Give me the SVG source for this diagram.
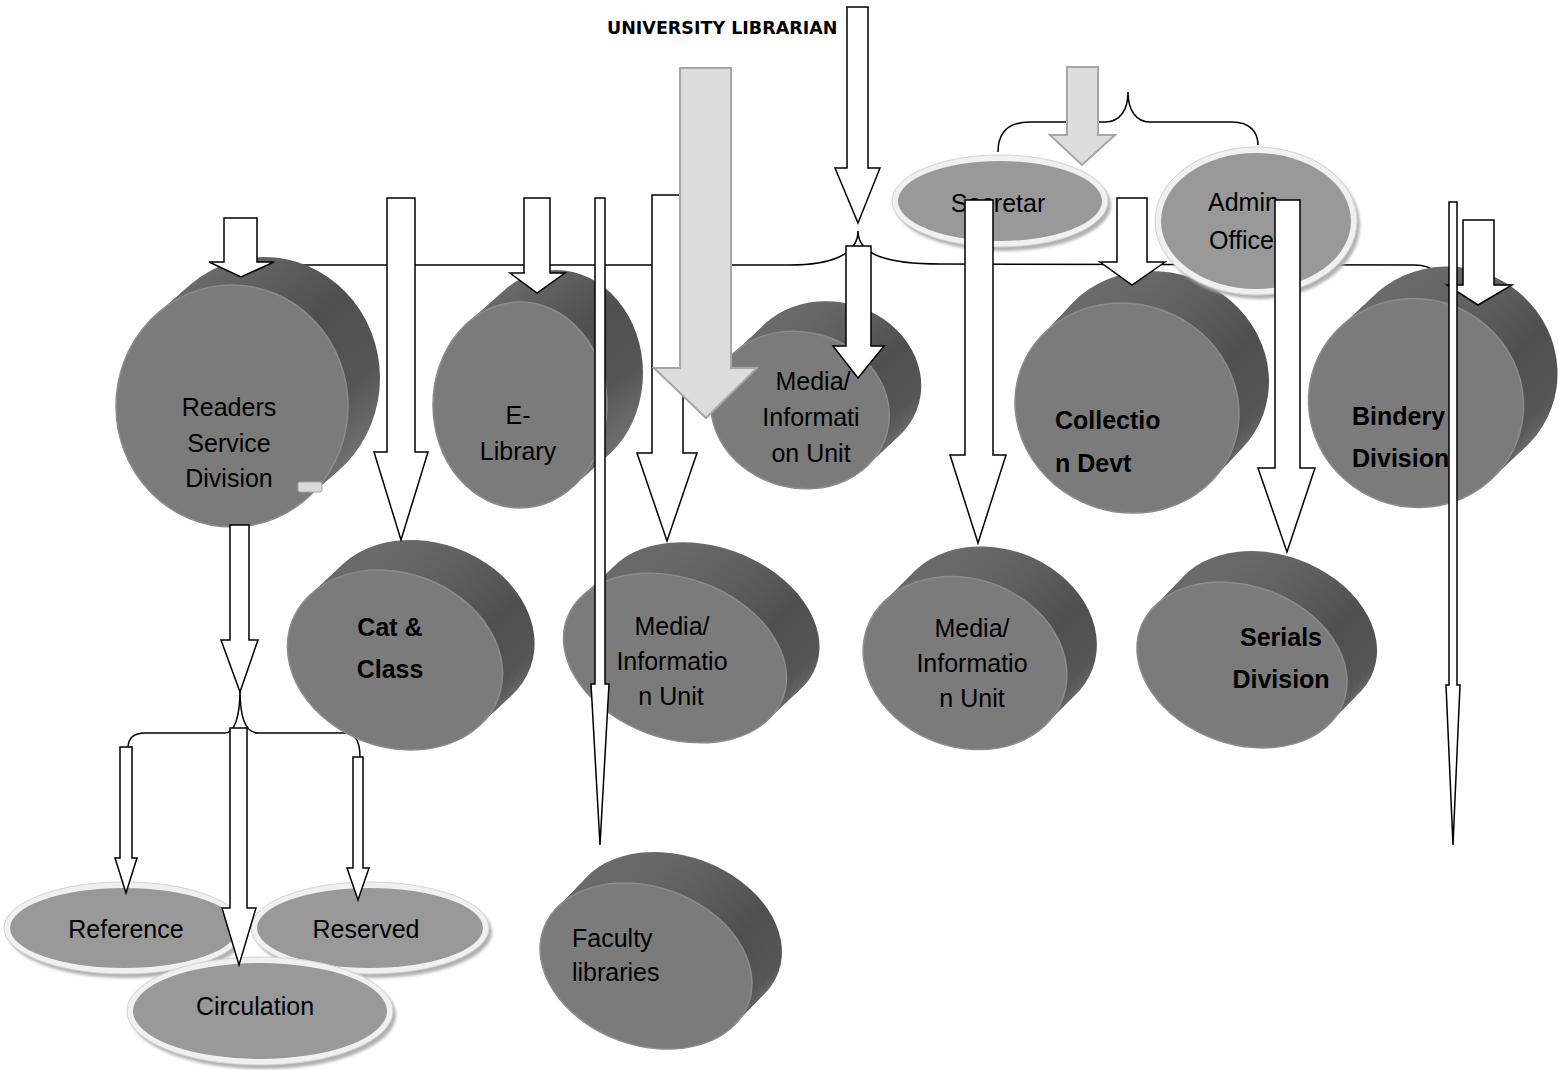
<svg xmlns="http://www.w3.org/2000/svg" xmlns:xlink="http://www.w3.org/1999/xlink" width="1558" height="1070" viewBox="0 0 1558 1070">
<style>
.face{fill:#7b7b7b;stroke:#8c8c8c;stroke-width:1.5}
.side{fill:url(#sideGrad)}
.oshadow{fill:#b0b0b0;filter:url(#blur)}
.orim{fill:#f0f0f0;stroke:#d2d2d2;stroke-width:1}
.ofill{fill:#999999}
.arrow{fill:#ffffff;stroke:#000000;stroke-width:1.5;stroke-linejoin:miter}
.arrow-gray{fill:#dddddd;stroke:#a6a6a6;stroke-width:2;stroke-linejoin:miter}
.brace{fill:none;stroke:#000000;stroke-width:1.5}
.t{font-family:"Liberation Sans",Arial,sans-serif;font-size:25px;fill:#000000}
.c{text-anchor:middle}
.b{font-weight:bold}
</style>
<defs>
<linearGradient id="sideGrad" x1="0" y1="0" x2="1" y2="1">
<stop offset="0" stop-color="#767676"/>
<stop offset="0.5" stop-color="#4f4f4f"/>
<stop offset="0.72" stop-color="#565656"/>
<stop offset="0.95" stop-color="#808080"/>
</linearGradient>
<filter id="blur" x="-10%" y="-20%" width="120%" height="140%"><feGaussianBlur stdDeviation="1.5"/></filter>
<ellipse id="d-readers" cx="232" cy="406" rx="116" ry="121"/>
<ellipse id="d-elib" cx="520" cy="405" rx="87" ry="103"/>
<ellipse id="d-mediatop" cx="800" cy="410" rx="90" ry="78" transform="rotate(15 800 410)"/>
<ellipse id="d-collection" cx="1127" cy="408" rx="113" ry="104" transform="rotate(20 1127 408)"/>
<ellipse id="d-bindery" cx="1416" cy="403" rx="108" ry="104" transform="rotate(20 1416 403)"/>
<ellipse id="d-cat" cx="395" cy="660" rx="110" ry="87" transform="rotate(20 395 660)"/>
<ellipse id="d-mediabl" cx="675" cy="658" rx="115" ry="80" transform="rotate(20 675 658)"/>
<ellipse id="d-mediabm" cx="965" cy="663" rx="104" ry="84" transform="rotate(20 965 663)"/>
<ellipse id="d-serials" cx="1242" cy="665" rx="108" ry="79" transform="rotate(20 1242 665)"/>
<ellipse id="d-faculty" cx="646" cy="966" rx="109" ry="79" transform="rotate(20 646 966)"/>
</defs>

<g id="connectors-braces">
<path class="brace" d="M270,300 C270,278 280,265 305,265 L790,265 C830,265 858,255 858,231 C858,255 888,264 940,264 L1415,265 C1432,265 1445,275 1445,295"/>
<path class="brace" d="M998,152 C998,132 1008,122 1030,122 L1105,122 C1120,122 1128,110 1128,92 C1128,110 1136,122 1150,122 L1232,122 C1250,122 1258,132 1258,145"/>
<path class="brace" d="M128,748 C128,738 133,733 145,733 L225,733 C235,733 240,715 240,690 C240,715 245,733 258,733 L345,733 C355,733 360,742 360,757"/>
</g>

<g id="node-university-librarian">
<text x="607" y="34" style="font-family:'DejaVu Sans',Verdana,sans-serif;font-weight:bold;font-size:17.5px;fill:#000">UNIVERSITY LIBRARIAN</text>
</g>

<g id="node-readers">
<use href="#d-readers" class="side" transform="translate(32,-28)"/>
<use href="#d-readers" class="side" transform="translate(24,-21)"/>
<use href="#d-readers" class="side" transform="translate(16,-14)"/>
<use href="#d-readers" class="side" transform="translate(8,-7)"/>
<use href="#d-readers" class="face"/>
<text class="t c" x="229" y="416">Readers</text>
<text class="t c" x="229" y="452">Service</text>
<text class="t c" x="229" y="487">Division</text>
<rect x="298" y="482" width="24" height="10" rx="2" fill="#d9d9d9" stroke="#a8a8a8" stroke-width="1"/>
</g>

<g id="node-elibrary">
<use href="#d-elib" class="side" transform="translate(36,-32)"/>
<use href="#d-elib" class="side" transform="translate(27,-24)"/>
<use href="#d-elib" class="side" transform="translate(18,-16)"/>
<use href="#d-elib" class="side" transform="translate(9,-8)"/>
<use href="#d-elib" class="face"/>
<text class="t c" x="518" y="424">E-</text>
<text class="t c" x="518" y="460">Library</text>
</g>

<g id="node-media-top">
<use href="#d-mediatop" class="side" transform="translate(32,-30)"/>
<use href="#d-mediatop" class="side" transform="translate(24,-22.5)"/>
<use href="#d-mediatop" class="side" transform="translate(16,-15)"/>
<use href="#d-mediatop" class="side" transform="translate(8,-7.5)"/>
<use href="#d-mediatop" class="face"/>
<text class="t c" x="813" y="390">Media/</text>
<text class="t c" x="811" y="426">Informati</text>
<text class="t c" x="811" y="462">on Unit</text>
</g>

<g id="node-collection">
<use href="#d-collection" class="side" transform="translate(30,-32)"/>
<use href="#d-collection" class="side" transform="translate(22.5,-24)"/>
<use href="#d-collection" class="side" transform="translate(15,-16)"/>
<use href="#d-collection" class="side" transform="translate(7.5,-8)"/>
<use href="#d-collection" class="face"/>
<text class="t b" x="1055" y="429">Collectio</text>
<text class="t b" x="1055" y="472">n Devt</text>
</g>

<g id="node-bindery">
<use href="#d-bindery" class="side" transform="translate(34,-32)"/>
<use href="#d-bindery" class="side" transform="translate(25.5,-24)"/>
<use href="#d-bindery" class="side" transform="translate(17,-16)"/>
<use href="#d-bindery" class="side" transform="translate(8.5,-8)"/>
<use href="#d-bindery" class="face"/>
<text class="t b" x="1352" y="425">Bindery</text>
<text class="t b" x="1352" y="467">Division</text>
</g>

<g id="node-cat-class">
<use href="#d-cat" class="side" transform="translate(32,-30)"/>
<use href="#d-cat" class="side" transform="translate(24,-22.5)"/>
<use href="#d-cat" class="side" transform="translate(16,-15)"/>
<use href="#d-cat" class="side" transform="translate(8,-7.5)"/>
<use href="#d-cat" class="face"/>
<text class="t b c" x="390" y="636">Cat &amp;</text>
<text class="t b c" x="390" y="678">Class</text>
</g>

<g id="node-media-left">
<use href="#d-mediabl" class="side" transform="translate(33,-31)"/>
<use href="#d-mediabl" class="side" transform="translate(24.75,-23.25)"/>
<use href="#d-mediabl" class="side" transform="translate(16.5,-15.5)"/>
<use href="#d-mediabl" class="side" transform="translate(8.25,-7.75)"/>
<use href="#d-mediabl" class="face"/>
<text class="t c" x="672" y="635">Media/</text>
<text class="t c" x="672" y="670">Informatio</text>
<text class="t c" x="671" y="705">n Unit</text>
</g>

<g id="node-media-mid">
<use href="#d-mediabm" class="side" transform="translate(30,-30)"/>
<use href="#d-mediabm" class="side" transform="translate(22.5,-22.5)"/>
<use href="#d-mediabm" class="side" transform="translate(15,-15)"/>
<use href="#d-mediabm" class="side" transform="translate(7.5,-7.5)"/>
<use href="#d-mediabm" class="face"/>
<text class="t c" x="972" y="637">Media/</text>
<text class="t c" x="972" y="672">Informatio</text>
<text class="t c" x="972" y="707">n Unit</text>
</g>

<g id="node-serials">
<use href="#d-serials" class="side" transform="translate(30,-31)"/>
<use href="#d-serials" class="side" transform="translate(22.5,-23.25)"/>
<use href="#d-serials" class="side" transform="translate(15,-15.5)"/>
<use href="#d-serials" class="side" transform="translate(7.5,-7.75)"/>
<use href="#d-serials" class="face"/>
<text class="t b c" x="1281" y="646">Serials</text>
<text class="t b c" x="1281" y="688">Division</text>
</g>

<g id="node-faculty">
<use href="#d-faculty" class="side" transform="translate(30,-31)"/>
<use href="#d-faculty" class="side" transform="translate(22.5,-23.25)"/>
<use href="#d-faculty" class="side" transform="translate(15,-15.5)"/>
<use href="#d-faculty" class="side" transform="translate(7.5,-7.75)"/>
<use href="#d-faculty" class="face"/>
<text class="t" x="572" y="947">Faculty</text>
<text class="t" x="572" y="981">libraries</text>
</g>

<g id="node-secretar">
<ellipse class="oshadow" cx="1003" cy="205" rx="108" ry="46"/>
<ellipse class="orim" cx="1000" cy="201" rx="108" ry="46"/>
<ellipse class="ofill" cx="1000" cy="201" rx="102" ry="40"/>
<text class="t c" x="998" y="212">Secretar</text>
</g>

<g id="node-admin">
<ellipse class="oshadow" cx="1259" cy="225" rx="101" ry="74"/>
<ellipse class="orim" cx="1256" cy="221" rx="101" ry="74"/>
<ellipse class="ofill" cx="1256" cy="221" rx="95" ry="68"/>
<text class="t" x="1208" y="211">Admin</text>
<text class="t" x="1209" y="249">Office</text>
</g>

<g id="node-reference">
<ellipse class="oshadow" cx="127" cy="932" rx="120" ry="46"/>
<ellipse class="orim" cx="124" cy="928" rx="120" ry="46"/>
<ellipse class="ofill" cx="124" cy="928" rx="114" ry="40"/>
<text class="t c" x="126" y="938">Reference</text>
</g>

<g id="node-reserved">
<ellipse class="oshadow" cx="373" cy="932" rx="119" ry="46"/>
<ellipse class="orim" cx="370" cy="928" rx="119" ry="46"/>
<ellipse class="ofill" cx="370" cy="928" rx="113" ry="40"/>
<text class="t c" x="366" y="938">Reserved</text>
</g>

<g id="node-circulation">
<ellipse class="oshadow" cx="263" cy="1015" rx="133" ry="54"/>
<ellipse class="orim" cx="260" cy="1011" rx="133" ry="54"/>
<ellipse class="ofill" cx="260" cy="1011" rx="127" ry="48"/>
<text class="t c" x="255" y="1015">Circulation</text>
</g>

<g id="connectors">
<polygon class="arrow" points="847,7 868,7 868,168 880,168 858,223 835,168 847,168"/>
<polygon class="arrow" points="846,246 871,246 871,346 884,346 858,378 833,346 846,346"/>
<polygon class="arrow" points="652,195 683,195 683,453 697,453 667,541 637,453 652,453"/>
<polygon class="arrow-gray" points="680,68 731,68 731,368 757,368 706,418 654,368 680,368"/>
<polygon class="arrow" points="224,218 257,218 257,262 274,262 241,277 209,262 224,262"/>
<polygon class="arrow" points="387,198 415,198 415,452 428,452 401,540 374,452 387,452"/>
<polygon class="arrow" points="524,198 550,198 550,273 565,273 537,293 510,273 524,273"/>
<polygon class="arrow" points="595,198 605,198 605,684 609,684 600,845 591,684 595,684"/>
<polygon class="arrow" points="230,525 249,525 249,640 258,640 240,692 221,640 230,640"/>
<polygon class="arrow" points="120,747 132,747 132,858 137,858 126,893 115,858 120,858"/>
<polygon class="arrow" points="353,757 363,757 363,868 369,868 358,900 347,868 353,868"/>
<polygon class="arrow" points="230,728 247,728 247,908 256,908 239,965 222,908 230,908"/>
<polygon class="arrow-gray" points="1067,67 1098,67 1098,135 1115,135 1082,165 1050,135 1067,135"/>
<polygon class="arrow" points="965,200 993,200 993,455 1006,455 978,543 950,455 965,455"/>
<polygon class="arrow" points="1117,198 1147,198 1147,262 1165,262 1132,285 1100,262 1117,262"/>
<polygon class="arrow" points="1275,200 1300,200 1300,468 1315,468 1287,552 1258,468 1275,468"/>
<polygon class="arrow" points="1463,220 1494,220 1494,285 1512,285 1478,305 1447,285 1463,285"/>
<polygon class="arrow" points="1449,202 1457,202 1457,685 1460,685 1453,845 1446,685 1449,685"/>
</g>
</svg>
